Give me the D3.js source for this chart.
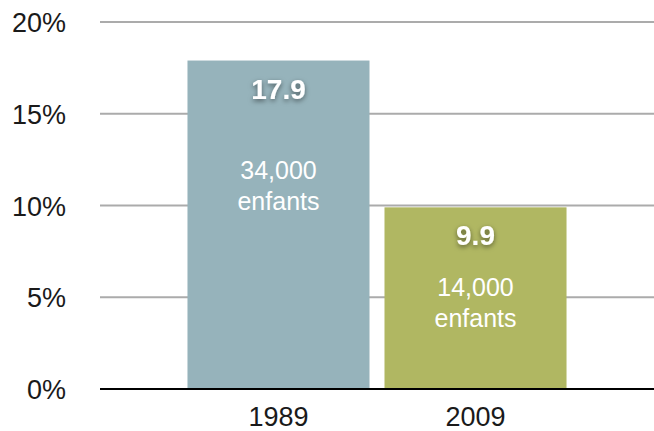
<!DOCTYPE html>
<html><head><meta charset="utf-8">
<script src="https://cdn.jsdelivr.net/npm/d3@7"></script>
<style>
html,body{margin:0;padding:0;background:#fff;}
svg{display:block;font-family:"Liberation Sans",Arial,sans-serif;}
</style></head>
<body><svg id="c" width="654" height="431"></svg>
<script>
const years = ["1989", "2009"];
const values = [17.9, 9.9];
const valueLabels = ["17.9", "9.9"];
const countLabels = ["34,000", "14,000"];
const countUnit = ["enfants", "enfants"];
const barColors = ["#96b3bb", "#b0b762"];
const yTicks = [0, 5, 10, 15, 20];

const svg = d3.select("#c");
const W = 654, H = 431;
const x = d3.scaleBand().domain(years).range([100, 654]).paddingInner(0.0761).paddingOuter(0.444);
const y = d3.scaleLinear().domain([0, 20]).range([389, 22]);

const defs = svg.append("defs");
const f = defs.append("filter").attr("id","sh").attr("x","-30%").attr("y","-30%").attr("width","160%").attr("height","160%");
f.append("feDropShadow").attr("dx",0).attr("dy",2).attr("stdDeviation",2.5).attr("flood-color","#000").attr("flood-opacity",0.5);

// gridlines
svg.append("g").selectAll("line").data(yTicks.filter(d=>d>0)).join("line")
  .attr("x1",100).attr("x2",W).attr("y1",d=>y(d)).attr("y2",d=>y(d))
  .attr("stroke","#ababab").attr("stroke-width",2);

// y tick labels
const yAxis = d3.axisLeft(y).tickValues(yTicks).tickFormat(d=>d+"%").tickSize(0).tickPadding(0);
const ga = svg.append("g").attr("transform","translate(66,0)").call(yAxis);
ga.select(".domain").remove();
ga.selectAll("text").attr("font-size",27).attr("fill","#1a1a1a").attr("font-family","Liberation Sans, Arial, sans-serif").attr("dy","0.36em");

// bars
const data = years.map((yr,i)=>({yr, v:values[i], i}));
svg.append("g").selectAll("rect").data(data).join("rect")
  .attr("x",d=>x(d.yr)).attr("width",x.bandwidth())
  .attr("y",d=>y(d.v)).attr("height",d=>y(0)-1-y(d.v))
  .attr("fill",d=>barColors[d.i]);

// axis line
svg.append("line").attr("x1",100).attr("x2",W).attr("y1",y(0)).attr("y2",y(0)).attr("stroke","#000").attr("stroke-width",2.2);

// x labels
const xAxis = d3.axisBottom(x).tickSize(0).tickPadding(0);
const gx = svg.append("g").attr("transform",`translate(0,${y(0)})`).call(xAxis);
gx.select(".domain").remove();
gx.selectAll("text").attr("font-size",27).attr("fill","#1a1a1a").attr("font-family","Liberation Sans, Arial, sans-serif")
  .attr("dy",null).attr("y",0).attr("dominant-baseline","alphabetic").attr("transform","translate(0,37)");

// value labels
const subOffset = [118, 89];
const g = svg.append("g").selectAll("g").data(data).join("g");
g.append("text").attr("x",d=>x(d.yr)+x.bandwidth()/2).attr("y",d=>y(d.v)+38)
  .attr("text-anchor","middle").attr("font-size",28).attr("font-weight","bold").attr("fill","#fff")
  .attr("filter","url(#sh)").text(d=>valueLabels[d.i]);
g.append("text").attr("x",d=>x(d.yr)+x.bandwidth()/2).attr("y",d=>y(d.v)+subOffset[d.i])
  .attr("text-anchor","middle").attr("font-size",25).attr("fill","#fff").text(d=>countLabels[d.i]);
g.append("text").attr("x",d=>x(d.yr)+x.bandwidth()/2).attr("y",d=>y(d.v)+subOffset[d.i]+31)
  .attr("text-anchor","middle").attr("font-size",25).attr("fill","#fff").text(d=>countUnit[d.i]);
</script></body></html>
